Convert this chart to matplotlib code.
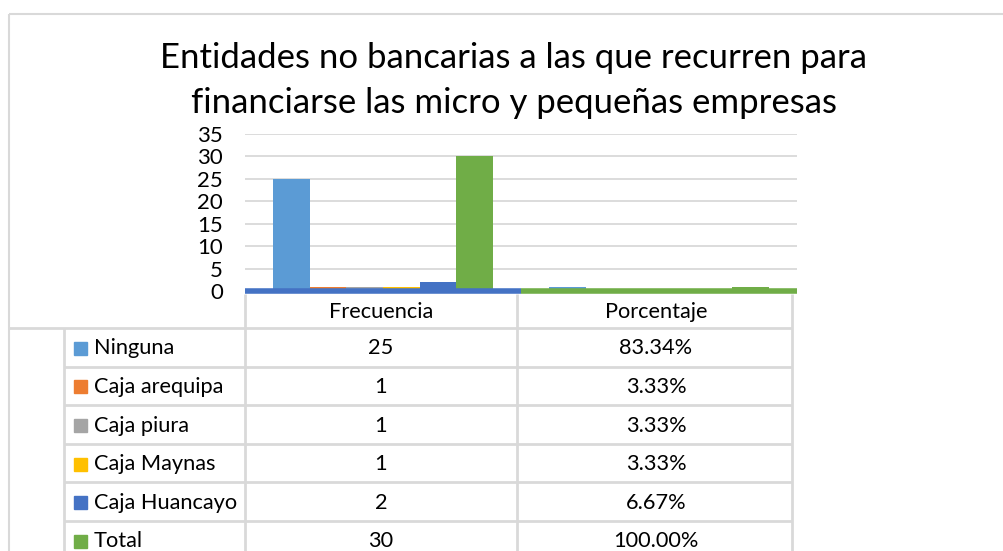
import matplotlib
matplotlib.use("Agg")
import matplotlib.pyplot as plt

# ---- data ----
categories = ["Frecuencia", "Porcentaje"]
series_names = ["Ninguna", "Caja arequipa", "Caja piura", "Caja Maynas", "Caja Huancayo", "Total"]
frecuencia = [25, 1, 1, 1, 2, 30]
porcentaje = [0.8334, 0.0333, 0.0333, 0.0333, 0.0667, 1.0]
porcentaje_labels = ["83.34%", "3.33%", "3.33%", "3.33%", "6.67%", "100.00%"]
colors = ["#5B9BD5", "#ED7D31", "#A5A5A5", "#FFC000", "#4472C4", "#70AD47"]
yticks = [0, 5, 10, 15, 20, 25, 30, 35]
title_lines = ["Entidades no bancarias a las que recurren para",
               "financiarse las micro y pequeñas empresas"]

FONT = "Lato"
plt.rcParams["font.family"] = [FONT, "DejaVu Sans"]

W, H = 1004, 551
fig = plt.figure(figsize=(W / 100, H / 100), dpi=100)
fig.patch.set_facecolor("white")

def fx(px):
    return px / W

def fy(py):
    return 1 - py / H

# overlay axes in pixel coordinates for border and data table
ov = fig.add_axes([0, 0, 1, 1], zorder=0)
ov.set_xlim(0, W)
ov.set_ylim(H, 0)
ov.axis("off")

grid_c = "#D9D9D9"
# outer chart border
ov.plot([9, W], [14, 14], color=grid_c, lw=1.5, solid_capstyle="butt")
ov.plot([9, 9], [14, H], color=grid_c, lw=1.5, solid_capstyle="butt")

# main plot axes
left, right, top, bottom = 245, 797, 134, 291
ax = fig.add_axes([fx(left), fy(bottom), fx(right - left), (bottom - top) / H], zorder=2)
ax.patch.set_alpha(0)
ax.set_xlim(-0.5, 1.5)
ax.set_ylim(0, 35)
ax.set_yticks(yticks)
ax.set_yticklabels([str(t) for t in yticks], fontsize=16, color="#000000")
ax.tick_params(axis="y", length=0, pad=16)
ax.set_xticks([])
for s in ax.spines.values():
    s.set_visible(False)
ax.grid(axis="y", color=grid_c, lw=1.3)
ax.set_axisbelow(True)

n = len(series_names)
bw = 0.133
for i, (name, c) in enumerate(zip(series_names, colors)):
    xs = [0 + (i - (n - 1) / 2) * bw, 1 + (i - (n - 1) / 2) * bw]
    ax.bar(xs, [frecuencia[i], porcentaje[i]], width=bw, color=c, zorder=2)

# thick baseline band
ax.plot([-0.5, 0.5], [0, 0], color=colors[4], lw=4, solid_capstyle="butt", zorder=4, clip_on=False)
ax.plot([0.5, 1.5], [0, 0], color=colors[5], lw=4, solid_capstyle="butt", zorder=4, clip_on=False)

# title
fig.text(fx(514), fy(58), title_lines[0], ha="center", va="center", fontsize=25, color="#000000")
fig.text(fx(514), fy(103), title_lines[1], ha="center", va="center", fontsize=25, color="#000000")

# data table
col_x = [245, 517, 792]
row_top = 328
row_h = 38.6
tlw = 2.0
for x in col_x:
    ov.plot([x, x], [294, H], color=grid_c, lw=tlw, solid_capstyle="butt")
ov.plot([64, 64], [row_top, H], color=grid_c, lw=tlw, solid_capstyle="butt")
ov.plot([9, 792], [row_top, row_top], color=grid_c, lw=tlw, solid_capstyle="butt")
for r in range(1, n):
    yy = row_top + r * row_h
    ov.plot([64, 792], [yy, yy], color=grid_c, lw=tlw, solid_capstyle="butt")

fs = 15.7
ov.text(381, 312, categories[0], ha="center", va="center", fontsize=fs, color="#000000")
ov.text(656, 312, categories[1], ha="center", va="center", fontsize=fs, color="#000000")

for r in range(n):
    yc = row_top + (r + 0.5) * row_h + 1
    ov.add_patch(plt.Rectangle((74, yc - 6.5), 13, 13, color=colors[r]))
    ov.text(94, yc, series_names[r], ha="left", va="center", fontsize=fs, color="#000000")
    ov.text(381, yc, str(frecuencia[r]), ha="center", va="center", fontsize=fs, color="#000000")
    ov.text(656, yc, porcentaje_labels[r], ha="center", va="center", fontsize=fs, color="#000000")

fig.savefig("out.png", dpi=100, facecolor="white")
